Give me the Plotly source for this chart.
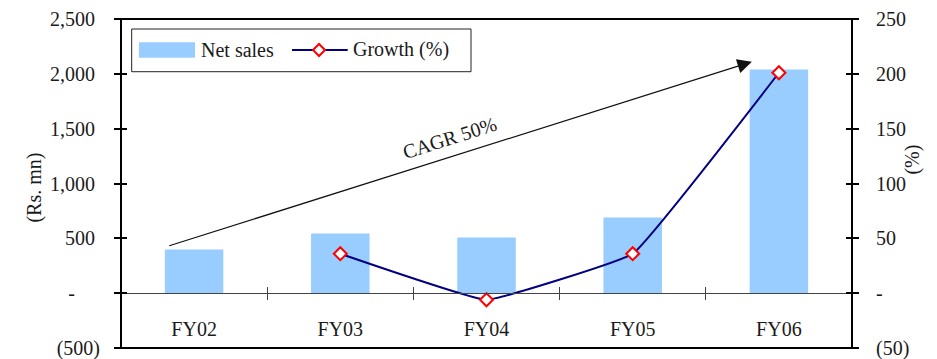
import plotly.graph_objects as go

# ---- data -------------------------------------------------------------
years = ["FY02", "FY03", "FY04", "FY05", "FY06"]
net_sales = [398, 543, 507, 690, 2040]          # Rs. mn
growth_years = ["FY03", "FY04", "FY05", "FY06"]
growth_pct = [36, -6, 36, 201]                  # %

sales_ticks = [-500, 0, 500, 1000, 1500, 2000, 2500]
sales_ticktext = ["(500)", "-\u2007\u2007\u2008", "500\u2008", "1,000\u2008",
                  "1,500\u2008", "2,000\u2008", "2,500\u2008"]
growth_ticks = [-50, 0, 50, 100, 150, 200, 250]
growth_ticktext = ["(50)", "-", "50", "100", "150", "200", "250"]

sales_range = [-500, 2500]
growth_range = [-50, 250]

# ---- styling ----------------------------------------------------------
FONT = "Liberation Serif, Times New Roman, serif"
TXT = "#1a1a1a"
BAR = "#99CCFF"
NAVY = "#000080"
tick_font = dict(family=FONT, size=20, color=TXT)
zero_pos = (0 - sales_range[0]) / (sales_range[1] - sales_range[0])

fig = go.Figure()

fig.add_trace(go.Bar(x=years, y=net_sales, name="Net sales", width=0.4,
                     marker=dict(color=BAR, line=dict(width=0)),
                     xaxis="x", yaxis="y", showlegend=False))

fig.add_trace(go.Scatter(x=growth_years, y=growth_pct, name="Growth (%)",
                         mode="lines+markers",
                         line=dict(color=NAVY, width=2, shape="spline", smoothing=0.25),
                         marker=dict(symbol="diamond", size=10, color="white",
                                     line=dict(color="#FF0000", width=2)),
                         xaxis="x", yaxis="y2", showlegend=False))

# invisible helpers so the inward tick overlays get drawn
helper = dict(mode="markers", marker=dict(opacity=0), hoverinfo="skip", showlegend=False)
fig.add_trace(go.Scatter(x=years, y=net_sales, xaxis="x", yaxis="y3", **helper))
fig.add_trace(go.Scatter(x=growth_years, y=growth_pct, xaxis="x", yaxis="y4", **helper))
fig.add_trace(go.Scatter(x=years, y=net_sales, xaxis="x2", yaxis="y", **helper))

axis_common = dict(showgrid=False, zeroline=False, fixedrange=True, automargin=False)

fig.update_layout(
    width=937, height=359,
    margin=dict(l=121, r=85, t=19, b=11, autoexpand=False),
    paper_bgcolor="white", plot_bgcolor="white",
    xaxis=dict(type="category", categoryorder="array", categoryarray=years,
               range=[-0.5, 4.5], anchor="free", position=zero_pos,
               showline=True, linecolor="#444444", linewidth=1,
               ticks="outside", tickson="boundaries", ticklen=6,
               tickcolor="#444444", tickwidth=1, tickfont=tick_font,
               ticklabelstandoff=18, **axis_common),
    xaxis2=dict(type="category", categoryorder="array", categoryarray=years,
                range=[-0.5, 4.5], overlaying="x", anchor="free", position=zero_pos,
                showline=False, ticks="inside", tickson="boundaries", ticklen=6,
                tickcolor="#444444", tickwidth=1, showticklabels=False, **axis_common),
    yaxis=dict(range=sales_range, tickvals=sales_ticks, ticktext=sales_ticktext,
               ticks="outside", ticklen=6, tickwidth=1.5, tickcolor="black",
               tickfont=tick_font, ticklabelstandoff=10, ticklabeloverflow="allow",
               showline=False, **axis_common),
    yaxis2=dict(range=growth_range, tickvals=growth_ticks, ticktext=growth_ticktext,
                overlaying="y", side="right", anchor="x",
                ticks="outside", ticklen=6, tickwidth=1.5, tickcolor="black",
                tickfont=tick_font, ticklabelstandoff=13, ticklabeloverflow="allow",
                showline=False, **axis_common),
    yaxis3=dict(range=sales_range, tickvals=sales_ticks, overlaying="y", side="left",
                ticks="inside", ticklen=6, tickwidth=1.5, tickcolor="black",
                showticklabels=False, showline=False, **axis_common),
    yaxis4=dict(range=growth_range, tickvals=growth_ticks, overlaying="y", side="right",
                anchor="x", ticks="inside", ticklen=6, tickwidth=1.5, tickcolor="black",
                showticklabels=False, showline=False, **axis_common),
    showlegend=False,
)

# plot frame
fig.add_shape(type="rect", xref="paper", yref="paper", x0=0, x1=1, y0=0, y1=1,
              line=dict(color="black", width=2), layer="above")

# legend box
fig.add_shape(type="rect", xref="paper", yref="paper", x0=0.0146, x1=0.4788,
              y0=0.8398, y1=0.9696, line=dict(color="#222222", width=1),
              fillcolor="white", layer="above")
fig.add_shape(type="rect", xref="paper", yref="paper", x0=0.0246, x1=0.1012,
              y0=0.8824, y1=0.9292, line=dict(width=0), fillcolor=BAR, layer="above")
fig.add_shape(type="line", xref="paper", yref="paper", x0=0.2339, x1=0.3101,
              y0=0.9058, y1=0.9058, line=dict(color=NAVY, width=2), layer="above")
mx, my, dx, dy = 0.2709, 0.9058, 0.0082, 0.0182
fig.add_shape(type="path", xref="paper", yref="paper",
              path=f"M {mx-dx},{my} L {mx},{my+dy} L {mx+dx},{my} L {mx},{my-dy} Z",
              line=dict(color="#FF0000", width=2), fillcolor="white", layer="above")
fig.add_annotation(xref="paper", yref="paper", x=0.1067, y=0.9058, text="Net sales",
                   showarrow=False, xanchor="left", yanchor="middle",
                   font=dict(family=FONT, size=20, color=TXT))
fig.add_annotation(xref="paper", yref="paper", x=0.3150, y=0.9058, text="Growth (%)",
                   showarrow=False, xanchor="left", yanchor="middle",
                   font=dict(family=FONT, size=20, color=TXT))

# axis titles
fig.add_annotation(xref="paper", yref="paper", x=-0.1368, y=0.489, text="(Rs. mn)",
                   textangle=-90, showarrow=False,
                   font=dict(family=FONT, size=20, color=TXT))
fig.add_annotation(xref="paper", yref="paper", x=1.0999, y=0.5714, text="(%)",
                   textangle=-90, showarrow=False,
                   font=dict(family=FONT, size=20, color=TXT))

# CAGR arrow from FY02 level to FY06 level
fig.add_annotation(xref="x", yref="y", axref="x", ayref="y",
                   x=len(years) - 1 - 0.185, y=net_sales[-1] + 70,
                   ax=-0.18, ay=net_sales[0] + 30,
                   text="", showarrow=True, arrowhead=2, arrowsize=2.4,
                   arrowwidth=1.2, arrowcolor="#111111")
fig.add_annotation(xref="x", yref="y", x=1.744, y=1418, text="CAGR 50%",
                   textangle=-17.6, showarrow=False,
                   font=dict(family=FONT, size=20, color=TXT))

fig.write_html("out.html")
